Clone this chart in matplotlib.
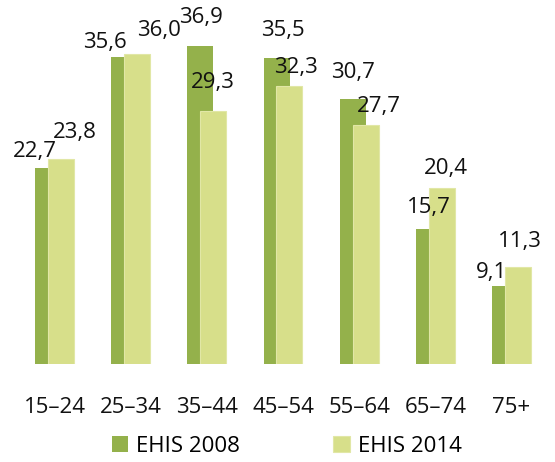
import matplotlib
matplotlib.use("Agg")
import matplotlib.pyplot as plt
import numpy as np

categories = ["15–24", "25–34", "35–44", "45–54", "55–64", "65–74", "75+"]
ehis_2008 = [22.7, 35.6, 36.9, 35.5, 30.7, 15.7, 9.1]
ehis_2014 = [23.8, 36.0, 29.3, 32.3, 27.7, 20.4, 11.3]
series_names = ["EHIS 2008", "EHIS 2014"]

# label offsets in pixels (dx, dy) relative to bar top center
off_2008 = [(-13, 6), (-19, 4), (1, 18), (6, 17), (0, 16), (0, 11), (-14, 3)]
off_2014 = [(14, 16), (22, 13), (0, 18), (6, 8), (13, 8), (4, 9), (2, 15)]

dark = "#94B14B"
light = "#D7DF8A"

plt.rcParams['font.family'] = ['Open Sans', 'DejaVu Sans']
fig = plt.figure(figsize=(5.55, 4.62), dpi=100)
ax = fig.add_axes([16.4 / 555, 98 / 462, 533.2 / 555, 362 / 462])

x = np.arange(len(categories))
w = 0.341
d = 0.085
b1 = ax.bar(x - d, ehis_2008, width=w, color=dark, label=series_names[0], zorder=2)
b2 = ax.bar(x + d, ehis_2014, width=w, color=light, edgecolor="#E1E7A6",
            linewidth=0.8, label=series_names[1], zorder=3)

def fmt(v):
    return f"{v:.1f}".replace(".", ",")

for i in range(len(categories)):
    ax.annotate(fmt(ehis_2008[i]), (x[i] - d, ehis_2008[i]), xytext=off_2008[i],
                textcoords="offset pixels", ha="center", va="bottom",
                fontsize=16, color="#111111", zorder=5)
    ax.annotate(fmt(ehis_2014[i]), (x[i] + d, ehis_2014[i]), xytext=off_2014[i],
                textcoords="offset pixels", ha="center", va="bottom",
                fontsize=16, color="#111111", zorder=5)

ax.set_xlim(-0.5, 6.5)
ax.set_ylim(0, 42)
ax.set_xticks(x)
ax.set_xticklabels(categories, fontsize=16, color="#111111")
ax.tick_params(axis="x", length=0, pad=24)
ax.set_yticks([])
for s in ax.spines.values():
    s.set_visible(False)

fig.legend(handles=[b1, b2], loc="center", bbox_to_anchor=(286.5 / 555, 16 / 462),
           ncol=2, frameon=False, fontsize=16, handlelength=0.75, handleheight=0.75,
           handletextpad=0.35, columnspacing=4.2, borderpad=0)

fig.savefig("out.png", dpi=100)
